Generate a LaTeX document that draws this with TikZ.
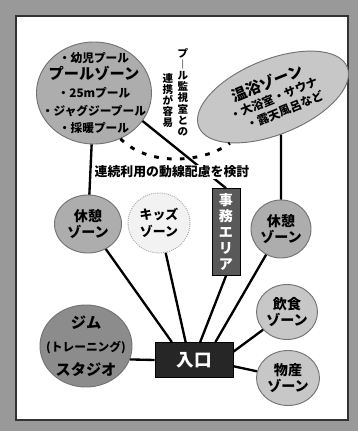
\documentclass[tikz,border=0pt]{standalone}
\usepackage{fontspec}
\setmainfont{Noto Sans CJK JP}
\usetikzlibrary{shapes.geometric}

\begin{document}
\begin{tikzpicture}
[x=0.03cm,y=-0.03cm,
zone/.style={ellipse,draw=black!55,fill=black!32,thick,inner sep=0pt},
lightzone/.style={zone,fill=black!22},
kidszone/.style={zone,draw=black!35,densely dotted,fill=black!5},
zonetext/.style={align=center,inner sep=0pt,font=\fontsize{12}{14}\selectfont\bfseries},
darkbox/.style={rectangle,draw=black,fill=black!85,text=white,thick,inner sep=0pt},
note/.style={align=center,inner sep=0pt,font=\fontsize{9}{9.5}\selectfont\bfseries},
link/.style={line width=2pt}]
\useasboundingbox (0,0) rectangle (358,431);
\fill [black!40] (0,0) rectangle (358,431);
\draw [fill=white,draw=black!80,line width=1pt] (16,16) rectangle (348,420);
% zones
\node at ( 94, 93) [zone,minimum width=3.45cm,minimum height=3.06cm] (pool){};
\node at (273, 97) [lightzone,rotate=22,minimum width=4.8cm,minimum height=2.25cm] (onsen){};
\node at ( 88,224) [zone,minimum width=2.01cm,minimum height=1.74cm] (rest1){};
\node at (159,223) [kidszone,minimum width=1.86cm,minimum height=1.8cm] (kids){};
\node at (281,229) [zone,minimum width=1.8cm,minimum height=1.74cm] (rest2){};
\node at (287,312) [lightzone,minimum width=1.83cm,minimum height=1.65cm] (food){};
\node at (288,378) [lightzone,minimum width=1.89cm,minimum height=1.65cm] (goods){};
\node at ( 86,346) [zone,fill=black!45,minimum width=2.76cm,minimum height=2.46cm] (gym){};
\node at (226,232) [darkbox,fill=black!65,minimum width=0.84cm,minimum height=2.6cm,
  align=center,font=\fontsize{12}{13.6}\selectfont\bfseries] (office){事\\務\\エ\\リ\\ア};
\node at (194,360) [darkbox,minimum width=2.34cm,minimum height=1.05cm,
  font=\fontsize{15}{17}\selectfont\bfseries] (entrance){入口};
% texts
\node at (pool) [zonetext,font=\fontsize{10}{15}\selectfont\bfseries] (pooltext)
  {・幼児プール\\{\fontsize{13}{15}\selectfont プールゾーン}\\・25mプール\\・ジャグジープール\\・採暖プール};
\node at (onsen) [zonetext,rotate=22,font=\fontsize{10}{13}\selectfont\bfseries] (onsentext)
  {{\fontsize{13}{15}\selectfont 温浴ゾーン}\\・大浴室・サウナ\\\quad・露天風呂など};
\node at (rest1) [zonetext] (rest1text){休憩\\ゾーン};
\node at (kids) [zonetext,font=\fontsize{11}{14}\selectfont\bfseries] (kidstext){キッズ\\ゾーン};
\node at (rest2) [zonetext] (rest2text){休憩\\ゾーン};
\node at (food) [zonetext] (foodtext){飲食\\ゾーン};
\node at (goods) [zonetext] (goodstext){物産\\ゾーン};
\node at (gym) [zonetext,font=\fontsize{13}{20}\selectfont\bfseries] (gymtext)
  {ジム\\{\fontsize{10}{12}\selectfont (トレーニング)}\\スタジオ};
\node at (183,48) [note,anchor=north] (monitor){プ\\︱\\ル\\監\\視\\室\\と\\の};
\node at (168,73) [note,anchor=north] (access){連\\携\\が\\容\\易};
% connectors
\draw [line width=2.5pt,dash pattern=on 4pt off 7pt]
  (pool.-60) .. controls (150,168) and (205,162) .. (onsen.205);
\draw [link] (pool) -- (rest1);
\draw [link] (onsen.-100) -- (rest2);
\draw [link] (pool.-30) -- (office.north);
\draw [link] (rest1) -- (entrance.141);
\draw [link] (kids) -- (entrance.115);
\draw [link] (office.south) -- (entrance.71);
\draw [link] (rest2) -- (entrance.40);
\draw [link] (food) -- (entrance.12);
\draw [link] (goods) -- (entrance.-9);
\draw [link] (gym.-17) -- (entrance.west);
\node at (172,172) [fill=white,inner sep=1pt,font=\fontsize{11}{12}\selectfont\bfseries] (route)
  {連続利用の動線配慮を検討};
\end{tikzpicture}
\end{document}
